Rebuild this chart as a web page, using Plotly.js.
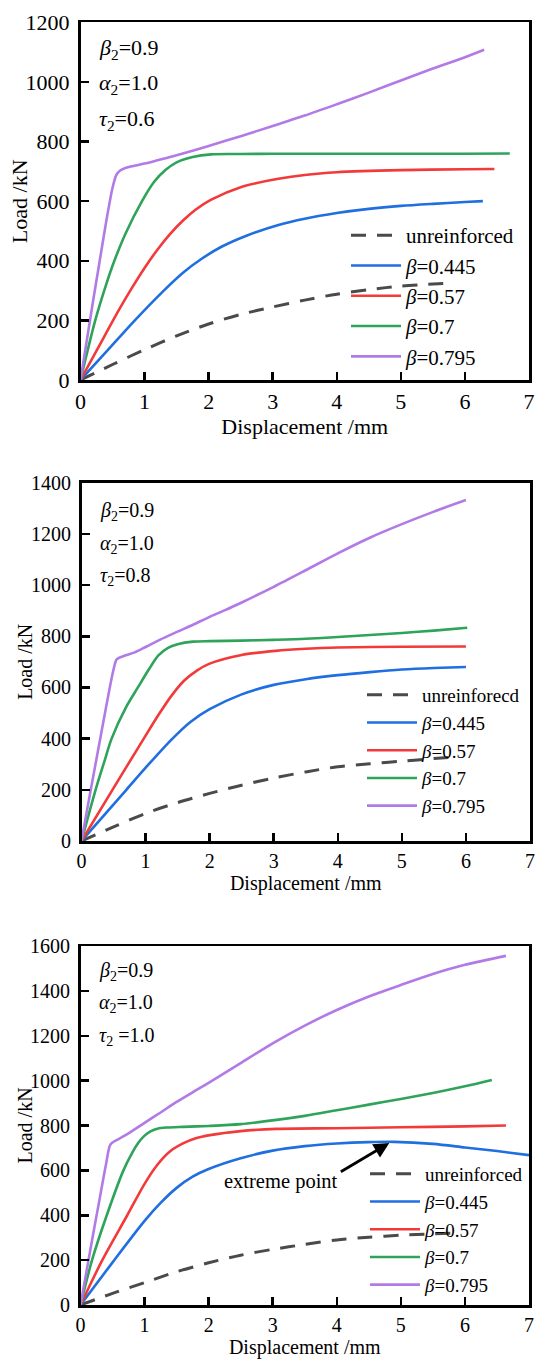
<!DOCTYPE html>
<html>
<head>
<meta charset="utf-8">
<script src="https://cdn.plot.ly/plotly-3.0.1.min.js"></script>
<style>
  html, body { margin: 0; padding: 0; background: #ffffff; }
  #chart { width: 550px; height: 1366px; }
</style>
</head>
<body>
<div id="chart"></div>
<script>
// ---------- Data ----------
const seriesNames = ["unreinforced", "<i>β</i>=0.445", "<i>β</i>=0.57", "<i>β</i>=0.7", "<i>β</i>=0.795"];
const seriesNames2 = ["unreinforecd", "<i>β</i>=0.445", "<i>β</i>=0.57", "<i>β</i>=0.7", "<i>β</i>=0.795"];
const seriesColors = ["#4a4a4a", "#1f6fe0", "#f23a3a", "#2ea35a", "#b27ae6"];

// Panel 1: tau2 = 0.6
const p1UnrX = [0, 0.5, 1, 1.5, 2, 2.5, 3, 3.5, 4, 4.5, 5, 5.75];
const p1UnrY = [0, 52, 102, 148, 188, 220, 245, 268, 288, 303, 315, 325];
const p1B445X = [0, 0.4, 0.83, 1.3, 1.6, 1.88, 2.2, 2.6, 3.09, 3.5, 4, 4.5, 5, 5.5, 6, 6.28];
const p1B445Y = [0, 94, 196, 300, 360, 405, 447, 485, 520, 541, 560, 574, 584, 591, 597, 600];
const p1B57X = [0, 0.3, 0.6, 0.8, 1.0, 1.2, 1.4, 1.6, 1.8, 2.04, 2.5, 3.09, 3.5, 4, 5, 6, 6.46];
const p1B57Y = [0, 118, 235, 308, 376, 437, 490, 535, 572, 605, 647, 675, 688, 697, 704, 707, 708];
const p1B7X = [0, 0.23, 0.4, 0.52, 0.7, 0.96, 1.15, 1.33, 1.5, 1.75, 2.04, 2.5, 3, 4, 5, 6, 6.7];
const p1B7Y = [0, 200, 320, 395, 490, 600, 665, 705, 730, 748, 757, 758, 759, 759, 759, 759, 760];
const p1B795X = [0, 0.1, 0.2, 0.3, 0.4, 0.5, 0.56, 0.62, 0.7, 0.8, 1.0, 1.2, 1.5, 2, 2.5, 3, 3.5, 4, 4.5, 5, 5.5, 6, 6.3];
const p1B795Y = [0, 135, 270, 400, 530, 645, 688, 703, 711, 717, 726, 737, 754, 785, 818, 852, 887, 925, 964, 1005, 1045, 1083, 1108];

// Panel 2: tau2 = 0.8
const p2UnrX = [0, 0.5, 1, 1.5, 2, 2.5, 3, 3.5, 4, 4.5, 5, 5.5, 5.9];
const p2UnrY = [0, 55, 108, 150, 186, 218, 246, 270, 290, 302, 312, 322, 330];
const p2B445X = [0, 0.7, 1.05, 1.42, 1.7, 2, 2.5, 3, 3.5, 4, 4.5, 5, 5.5, 6];
const p2B445Y = [0, 200, 300, 400, 465, 515, 573, 610, 632, 648, 660, 670, 676, 680];
const p2B57X = [0, 0.49, 0.96, 1.2, 1.4, 1.6, 1.8, 2, 2.5, 3.03, 3.5, 4, 5, 6];
const p2B57Y = [0, 203, 395, 492, 566, 626, 666, 693, 727, 743, 751, 756, 759, 760];
const p2B7X = [0, 0.22, 0.35, 0.47, 0.7, 0.88, 1.05, 1.2, 1.35, 1.5, 1.74, 2, 2.5, 3, 3.5, 4, 4.5, 5, 5.5, 6.02];
const p2B7Y = [0, 200, 305, 400, 525, 600, 670, 725, 755, 769, 779, 781, 783, 786, 790, 797, 805, 813, 822, 833];
const p2B795X = [0, 0.1, 0.2, 0.3, 0.4, 0.5, 0.55, 0.65, 0.83, 1.0, 1.22, 1.5, 1.74, 2, 2.25, 2.5, 3, 3.5, 4, 4.5, 5, 5.5, 6];
const p2B795Y = [0, 140, 275, 410, 545, 670, 710, 722, 737, 758, 786, 818, 845, 876, 903, 932, 993, 1058, 1124, 1185, 1238, 1287, 1332];

// Panel 3: tau2 = 1.0
const p3UnrX = [0, 0.5, 1, 1.5, 2, 2.5, 3, 3.5, 4, 4.5, 5, 5.5, 5.93];
const p3UnrY = [0, 52, 100, 148, 188, 222, 248, 270, 290, 302, 311, 317, 321];
const p3B445X = [0, 0.5, 1.0, 1.25, 1.5, 1.75, 2, 2.5, 3, 3.5, 4, 4.5, 4.9, 5.5, 6, 6.5, 7];
const p3B445Y = [0, 190, 375, 455, 522, 572, 606, 654, 688, 708, 720, 726, 727, 718, 702, 686, 668];
const p3B57X = [0, 0.34, 0.73, 1.0, 1.2, 1.4, 1.6, 1.8, 2.02, 2.5, 3.06, 4, 5, 6, 6.64];
const p3B57Y = [0, 200, 400, 540, 625, 685, 720, 743, 757, 775, 785, 788, 792, 796, 800];
const p3B7X = [0, 0.18, 0.41, 0.67, 0.8, 0.9, 1.0, 1.1, 1.2, 1.35, 1.6, 2, 2.5, 3.06, 3.5, 4, 4.5, 5, 5.5, 6, 6.42];
const p3B7Y = [0, 200, 400, 600, 675, 722, 755, 775, 786, 791, 794, 798, 806, 825, 843, 868, 893, 918, 945, 975, 1003];
const p3B795X = [0, 0.1, 0.2, 0.3, 0.4, 0.47, 0.6, 0.73, 1, 1.25, 1.5, 1.75, 2, 2.5, 3, 3.5, 4, 4.5, 5, 5.5, 6, 6.64];
const p3B795Y = [0, 160, 320, 475, 630, 716, 740, 762, 812, 858, 905, 948, 990, 1078, 1166, 1245, 1315, 1375, 1426, 1475, 1516, 1556];

const xTickVals = [0, 1, 2, 3, 4, 5, 6, 7];
const yRanges = [[0, 1200], [0, 1400], [0, 1600]];
const xTitle = "Displacement /mm";
const yTitle = "Load /kN";
const paramLabels1 = ["<i>β</i><sub>2</sub>=0.9", "<i>α</i><sub>2</sub>=1.0", "<i>τ</i><sub>2</sub>=0.6"];
const paramLabels2 = ["<i>β</i><sub>2</sub>=0.9", "<i>α</i><sub>2</sub>=1.0", "<i>τ</i><sub>2</sub>=0.8"];
const paramLabels3 = ["<i>β</i><sub>2</sub>=0.9", "<i>α</i><sub>2</sub>=1.0", "<i>τ</i><sub>2</sub> =1.0"];
const extremeLabel = "extreme point";
const extremeTip = [4.82, 722];
const extremeTail = [4.04, 590];
const extremeText = [4.05, 552];

// ---------- Build ----------
const FONT = "Liberation Serif, Times New Roman, serif";
const panels = [
  {xs: [p1UnrX, p1B445X, p1B57X, p1B7X, p1B795X], ys: [p1UnrY, p1B445Y, p1B57Y, p1B7Y, p1B795Y], names: seriesNames},
  {xs: [p2UnrX, p2B445X, p2B57X, p2B7X, p2B795X], ys: [p2UnrY, p2B445Y, p2B57Y, p2B7Y, p2B795Y], names: seriesNames2},
  {xs: [p3UnrX, p3B445X, p3B57X, p3B7X, p3B795X], ys: [p3UnrY, p3B445Y, p3B57Y, p3B7Y, p3B795Y], names: seriesNames}
];
const legendIds = ["legend", "legend2", "legend3"];
const traces = [];
panels.forEach((p, pi) => {
  const ax = pi === 0 ? "" : String(pi + 1);
  for (let i = 0; i < 5; i++) {
    traces.push({
      type: "scatter", mode: "lines",
      x: p.xs[i], y: p.ys[i],
      xaxis: "x" + ax, yaxis: "y" + ax,
      name: p.names[i],
      legend: legendIds[pi],
      line: {color: seriesColors[i], width: i === 0 ? 3 : 2.6,
             dash: i === 0 ? "15px,11px" : "solid", shape: "spline", smoothing: 0.8},
      hoverinfo: "skip"
    });
  }
});

const W = 550, H = 1366;
const frames = [
  {l: 80.5, r: 529, t: 22.3, b: 380, fs: 22, ytx: 19},
  {l: 81.5, r: 530, t: 482.7, b: 841, fs: 20, ytx: 25},
  {l: 80.5, r: 529, t: 946, b: 1305, fs: 20, ytx: 24}
];

function xAxis(f, anchor) {
  return {
    domain: [f.l / W, f.r / W], anchor: anchor, range: [0, 7],
    tickvals: xTickVals, ticks: "inside", ticklen: 8, tickwidth: 2.5, tickcolor: "#000",
    showline: true, mirror: true, linecolor: "#000", linewidth: 2.5,
    showgrid: false, zeroline: false, fixedrange: true,
    tickfont: {family: FONT, size: f.fs, color: "#000"},
    ticklabelstandoff: 0,
    title: {text: xTitle, font: {family: FONT, size: f.fs, color: "#000"}, standoff: 1}
  };
}
function yAxis(f, anchor, range) {
  return {
    domain: [1 - f.b / H, 1 - f.t / H], anchor: anchor, range: range,
    dtick: 200, ticks: "inside", ticklen: 8, tickwidth: 2.5, tickcolor: "#000",
    showline: true, mirror: true, linecolor: "#000", linewidth: 2.5,
    showgrid: false, zeroline: false, fixedrange: true,
    tickfont: {family: FONT, size: f.fs, color: "#000"},
    ticklabelstandoff: 4
  };
}

const legendPos = [
  {x: 346, y: 215, fs: 21},
  {x: 362, y: 676, fs: 19},
  {x: 365, y: 1155, fs: 19}
];
function legendObj(lp) {
  return {
    x: lp.x / W, y: 1 - lp.y / H, xanchor: "left", yanchor: "top",
    xref: "paper", yref: "paper",
    bgcolor: "rgba(0,0,0,0)", borderwidth: 0,
    font: {family: FONT, size: lp.fs, color: "#000"},
    itemwidth: 50, traceorder: "normal", tracegroupgap: 0
  };
}

const annotations = [];
// y-axis titles (placed as rotated text beside each axis)
frames.forEach((f, pi) => {
  const ax = pi === 0 ? "" : String(pi + 1);
  annotations.push({
    text: yTitle, textangle: -90, xref: "paper", yref: "y" + ax + " domain",
    x: f.ytx / W, y: 0.5, xanchor: "center", yanchor: "middle", showarrow: false,
    font: {family: FONT, size: f.fs, color: "#000"}
  });
});
const paramSets = [paramLabels1, paramLabels2, paramLabels3];
const paramY = [[0.924, 0.827, 0.726], [0.919, 0.827, 0.737], [0.930, 0.841, 0.749]];
paramSets.forEach((labels, pi) => {
  const ax = pi === 0 ? "" : String(pi + 1);
  labels.forEach((t, j) => {
    annotations.push({
      text: t, xref: "x" + ax + " domain", yref: "y" + ax + " domain",
      x: 0.036, y: paramY[pi][j], xanchor: "left", yanchor: "middle", showarrow: false,
      font: {family: FONT, size: frames[pi].fs, color: "#000"}
    });
  });
});
annotations.push({
  text: extremeLabel, xref: "x3", yref: "y3", x: extremeText[0], y: extremeText[1],
  xanchor: "right", yanchor: "middle", showarrow: false,
  font: {family: FONT, size: 20.5, color: "#000"}
});
annotations.push({
  text: "", xref: "x3", yref: "y3", x: extremeTip[0], y: extremeTip[1],
  axref: "x3", ayref: "y3", ax: extremeTail[0], ay: extremeTail[1],
  showarrow: true, arrowhead: 2, arrowsize: 1.1, arrowwidth: 2.8, arrowcolor: "#000", standoff: 0
});

const layout = {
  width: W, height: H, margin: {l: 0, r: 0, t: 0, b: 0, autoexpand: false},
  paper_bgcolor: "#fff", plot_bgcolor: "#fff",
  showlegend: true,
  xaxis: xAxis(frames[0], "y"), yaxis: yAxis(frames[0], "x", yRanges[0]),
  xaxis2: xAxis(frames[1], "y2"), yaxis2: yAxis(frames[1], "x2", yRanges[1]),
  xaxis3: xAxis(frames[2], "y3"), yaxis3: yAxis(frames[2], "x3", yRanges[2]),
  legend: legendObj(legendPos[0]),
  legend2: legendObj(legendPos[1]),
  legend3: legendObj(legendPos[2]),
  annotations: annotations
};

Plotly.newPlot("chart", traces, layout, {staticPlot: true, displayModeBar: false});
</script>
</body>
</html>
